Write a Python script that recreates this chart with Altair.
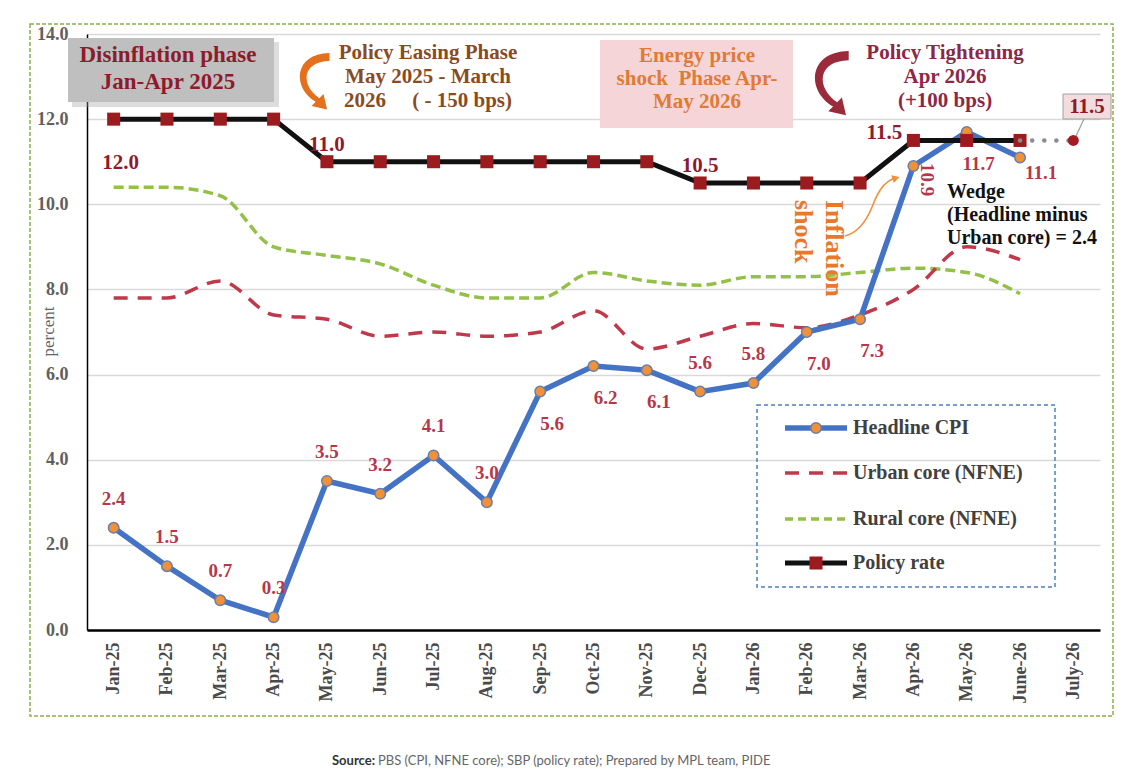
import altair as alt
import pandas as pd

# ---------------- data ----------------
months = ["Jan-25", "Feb-25", "Mar-25", "Apr-25", "May-25", "Jun-25", "Jul-25",
          "Aug-25", "Sep-25", "Oct-25", "Nov-25", "Dec-25", "Jan-26", "Feb-26",
          "Mar-26", "Apr-26", "May-26", "June-26", "July-26"]
headline = [2.4, 1.5, 0.7, 0.3, 3.5, 3.2, 4.1, 3.0, 5.6, 6.2, 6.1, 5.6, 5.8, 7.0,
            7.3, 10.9, 11.7, 11.1]
urban = [7.8, 7.8, 8.2, 7.4, 7.3, 6.9, 7.0, 6.9, 7.0, 7.5, 6.6, 6.9, 7.2, 7.1,
         7.4, 8.0, 9.0, 8.7]
rural = [10.4, 10.4, 10.2, 9.0, 8.8, 8.6, 8.1, 7.8, 7.8, 8.4, 8.2, 8.1, 8.3, 8.3,
         8.4, 8.5, 8.4, 7.9]
policy = [12.0, 12.0, 12.0, 12.0, 11.0, 11.0, 11.0, 11.0, 11.0, 11.0, 11.0, 10.5,
          10.5, 10.5, 10.5, 11.5, 11.5, 11.5]
policy_july = 11.5
y_ticks = [0, 2, 4, 6, 8, 10, 12, 14]
legend_labels = ["Headline CPI", "Urban core (NFNE)", "Rural core (NFNE)", "Policy rate"]

# label placement (layout only)
headline_place = ["above"] * 8 + ["below"] * 3 + ["above"] * 2 + ["below"] * 2 + \
                 ["vertical", "below", "right"]
policy_place = ["below", "", "", "", "above", "", "", "", "", "", "", "above",
                "", "", "", "left", "", ""]

# ---------------- layout ----------------
W, H = 1013, 596
X0, Y0 = 87, 34
SERIF = "Liberation Serif"
C_BLUE = "#4472C4"
C_ORANGE = "#F0913A"
C_URBAN = "#C0394B"
C_RURAL = "#93C047"
C_SQ = "#9B1B1E"
C_HL_LAB = "#B5374A"
C_PR_LAB = "#8E1B2B"

n = len(headline)
idx = list(range(n))
long = pd.DataFrame({
    "idx": idx * 4,
    "value": headline + urban + rural + policy,
    "series": sum([[s] * n for s in legend_labels], []),
})
hl = pd.DataFrame({"idx": idx, "value": headline, "place": headline_place})
pr = pd.DataFrame({"idx": idx, "value": policy, "place": policy_place})
july = pd.DataFrame({"idx": [n - 1, n], "value": [policy[-1], policy_july]})

label_expr = "[" + ",".join("'%s'" % m for m in months) + "][datum.value]"
xs = alt.Scale(domain=[-0.5, len(months) - 0.5], nice=False, zero=False)
ys = alt.Scale(domain=[0, 14], nice=False)
xaxis = alt.Axis(values=list(range(len(months))), labelExpr=label_expr, labelAngle=-90,
                 title=None, grid=False)
yaxis = alt.Axis(values=y_ticks, format=".1f", title="percent", grid=True)
X = alt.X("idx:Q", scale=xs, axis=xaxis)
Y = alt.Y("value:Q", scale=ys, axis=yaxis)


def series(name):
    return alt.Chart(long).transform_filter(alt.datum.series == name)


rural_line = series(legend_labels[2]).mark_line(
    color=C_RURAL, strokeWidth=3.5, strokeDash=[10, 5], interpolate="monotone"
).encode(x=X, y=Y)
urban_line = series(legend_labels[1]).mark_line(
    color=C_URBAN, strokeWidth=3.5, strokeDash=[14, 10], interpolate="monotone"
).encode(x=X, y=Y)
hl_line = series(legend_labels[0]).mark_line(
    color=C_BLUE, strokeWidth=5.5
).encode(x=X, y=Y)
hl_pts = series(legend_labels[0]).mark_point(
    filled=True, fill=C_ORANGE, stroke="#6A7FA6", strokeWidth=1.5, size=110, opacity=1
).encode(x=X, y=Y)
pr_line = series(legend_labels[3]).mark_line(
    color="#111111", strokeWidth=5
).encode(x=X, y=Y)
pr_pts = series(legend_labels[3]).mark_point(
    shape="square", filled=True, color=C_SQ, size=170, opacity=1
).encode(x=X, y=Y)
july_line = alt.Chart(july).mark_line(
    color="#8C8C8C", strokeWidth=4.5, strokeDash=[0.1, 12], strokeCap="round"
).encode(x=X, y=Y)
july_pt = alt.Chart(july).transform_filter(alt.datum.idx == n).mark_point(
    filled=True, color="#A31C24", size=120, opacity=1
).encode(x=X, y=Y)


def hl_labels(place, **kw):
    return alt.Chart(hl).transform_filter(alt.datum.place == place).mark_text(
        font=SERIF, fontSize=19, fontWeight="bold", color=C_HL_LAB, **kw
    ).encode(x=X, y=Y, text=alt.Text("value:Q", format=".1f"))


def pr_labels(place, **kw):
    return alt.Chart(pr).transform_filter(alt.datum.place == place).mark_text(
        font=SERIF, fontSize=21, fontWeight="bold", color=C_PR_LAB, **kw
    ).encode(x=X, y=Y, text=alt.Text("value:Q", format=".1f"))


labels = [
    hl_labels("above", dy=-29),
    hl_labels("below", dx=12, dy=32),
    hl_labels("right", dx=21, dy=16),
    hl_labels("vertical", angle=90, align="left", baseline="middle", dx=-3, dy=-14),
    pr_labels("below", dx=7, dy=44),
    pr_labels("above", dy=-17),
    pr_labels("left", dx=-29, dy=-7),
]


# ---------------- decorations ----------------
def at(x, y):
    return dict(x=alt.value(x - X0), y=alt.value(y - Y0))


def one():
    return pd.DataFrame({"a": [0]})


def note(text, x, y, size, color, lh=None, weight="bold", font=SERIF, **kw):
    props = dict(font=font, fontSize=size, fontWeight=weight, color=color, lineBreak="\n")
    if lh:
        props["lineHeight"] = lh
    props.update(kw)
    return alt.Chart(pd.DataFrame({"t": [text]})).mark_text(**props).encode(
        text="t:N", **at(x, y))


def box(x1, y1, x2, y2, **kw):
    return alt.Chart(one()).mark_rect(**kw).encode(
        x=alt.value(x1 - X0), x2=alt.value(x2 - X0),
        y=alt.value(y1 - Y0), y2=alt.value(y2 - Y0))


def rule(x1, y1, x2, y2, **kw):
    return alt.Chart(one()).mark_rule(**kw).encode(
        x=alt.value(x1 - X0), x2=alt.value(x2 - X0),
        y=alt.value(y1 - Y0), y2=alt.value(y2 - Y0))


def glyph(path, x, y, size, **kw):
    return alt.Chart(one()).mark_point(shape=path, size=size, **kw).encode(**at(x, y))


ARROW = ("M 0.55 -0.97 C -0.65 -0.95 -0.7 0.2 0.09 0.66 L -0.05 0.8 L 0.47 0.92 "
         "L 0.35 0.40 L 0.21 0.54 C -0.42 0.1 -0.38 -0.68 0.55 -0.70 Z")
CURVE = "M -0.87 1 C -0.45 0.9 -0.15 0.5 0.05 0 C 0.2 -0.4 0.4 -0.8 0.8 -0.93"

deco_back = [
    box(30, 24, 1113, 716, fill=None, fillOpacity=0, stroke="#8DB04A",
        strokeWidth=1.5, strokeDash=[4, 2]),
    box(72, 42, 279, 107, fill="#9E9E9E", opacity=0.35),
    box(68, 38, 274, 102, fill="#BFBFBF"),
    box(600, 40, 793, 128, fill="#F5D5D8"),
]

NB = "\u00a0"
deco_front = [
    note("Disinflation phase\nJan-Apr 2025", 168, 55, 23, "#8E1B2B", lh=27),
    note("Policy Easing Phase\nMay 2025 - March\n2026" + NB * 5 + "( - 150 bps)",
         428, 53, 21, "#8A4B22", lh=24),
    note("Energy price\nshock" + NB + " Phase Apr-\nMay 2026", 697, 56, 21, "#E07A35", lh=23),
    note("Policy Tightening\nApr 2026\n(+100 bps)", 945, 53, 21, "#8C2845", lh=24),
    glyph(ARROW, 313, 82, 3600, filled=True, color="#E4701E", opacity=1),
    glyph(ARROW, 830, 84, 4624, filled=True, color="#9B2A3A", opacity=1),
    # callout for July policy rate
    rule(1084, 119, 1076, 136, color="#9A9A9A", strokeWidth=1.2),
    box(1063, 94, 1111, 119, fill="#F2DCDD", stroke="#A0A0A0", strokeWidth=1),
    note("11.5", 1087, 107, 21, C_PR_LAB),
    # inflation shock
    note("Inflation", 834, 200, 26, "#E8792B", angle=90, align="left", baseline="middle"),
    note("shock", 803, 200, 26, "#E8792B", angle=90, align="left", baseline="middle"),
    glyph(CURVE, 871, 206, 3600, filled=False, color="#F0903A", strokeWidth=1.6, opacity=1),
    glyph("triangle-right", 896, 178, 70, filled=True, color="#F0903A", angle=342, opacity=1),
    note("Wedge\n(Headline minus\nUrban core) = 2.4", 947, 192, 20, "#111111", lh=23,
         align="left"),
    # legend
    box(757, 405, 1055, 587, fill=None, fillOpacity=0, stroke="#4F7FBF",
        strokeWidth=1.5, strokeDash=[4, 3]),
    rule(785, 428, 847, 428, color=C_BLUE, strokeWidth=5.5),
    glyph("circle", 816, 428, 110, filled=True, fill=C_ORANGE, stroke="#6A7FA6",
          strokeWidth=1.5, opacity=1),
    rule(785, 473, 847, 473, color=C_URBAN, strokeWidth=3.5, strokeDash=[14, 10]),
    rule(785, 519, 847, 519, color=C_RURAL, strokeWidth=3.5, strokeDash=[8, 5]),
    rule(785, 563, 847, 563, color="#111111", strokeWidth=5),
    glyph("square", 816, 563, 170, filled=True, color=C_SQ, opacity=1),
]
for label, yy in zip(legend_labels, [428, 473, 519, 563]):
    deco_front.append(note(label, 853, yy, 20, "#404040", align="left"))

deco_front += [
    note("Source:", 375, 761, 13, "#333333", weight="bold", font="Lato", align="right"),
    note("PBS (CPI, NFNE core); SBP (policy rate); Prepared by MPL team, PIDE",
         378, 761, 13, "#666666", weight="normal", font="Lato", align="left"),
]

chart = alt.layer(
    *deco_back,
    rural_line, urban_line, hl_line, hl_pts, pr_line, pr_pts, july_line, july_pt,
    *labels,
    *deco_front,
).properties(
    width=W, height=H,
    padding={"left": X0 - 8, "top": Y0 - 8, "right": 36, "bottom": 139},
    autosize=alt.AutoSizeParams(type="none"),
    background="white",
).configure_view(
    strokeWidth=0
).configure_axisX(
    labelFont=SERIF, labelFontSize=18, labelFontWeight="bold", labelColor="#4A4A4A",
    labelPadding=12, ticks=False, domainColor="#000000", domainWidth=2.5,
).configure_axisY(
    labelFont=SERIF, labelFontSize=18, labelFontWeight="bold", labelColor="#606060",
    labelPadding=19, ticks=False, gridColor="#D9D9D9", gridWidth=1.5,
    domainColor="#000000", domainWidth=1.5,
    titleFont=SERIF, titleFontSize=17, titleFontWeight="normal", titleColor="#666666",
    titleX=-39, titleY=297, titleAngle=270, titleAlign="center", titleBaseline="middle",
)

chart.save("out.html", embed_options={"renderer": "svg", "actions": False})
